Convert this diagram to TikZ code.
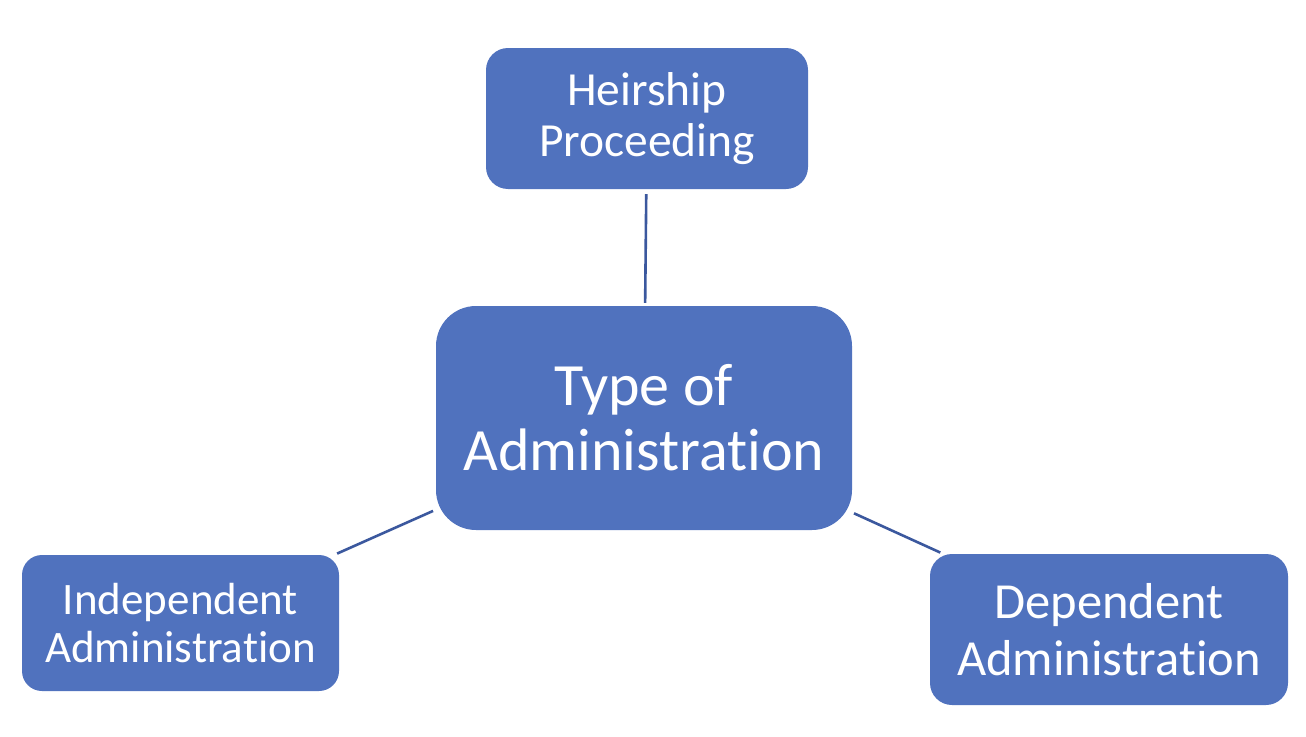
\documentclass[tikz,border=0pt]{standalone}
\usepackage{fontspec}
\setmainfont[Ligatures={NoCommon,NoRare}]{Carlito}
\definecolor{boxblue}{RGB}{80,114,190}
\definecolor{linkblue}{RGB}{59,88,158}
\tikzset{
  box/.style={fill=boxblue, draw=none, text=white, align=center, inner sep=0pt},
  conn/.style={draw=linkblue, line width=2.6pt, shorten <=3pt, shorten >=3pt}
}
\begin{document}
\begin{tikzpicture}[x=1pt,y=-1pt]
\useasboundingbox (0,0) rectangle (1306,736);
\node[box, minimum width=322pt, minimum height=141pt, rounded corners=22pt,
  font=\fontsize{47.5}{51}\selectfont] (heir) at (647,118.5) {Heirship\\Proceeding};
\node[box, minimum width=416pt, minimum height=224pt, rounded corners=40pt,
  font=\fontsize{60}{65}\selectfont] (type) at (644,418) {Type of\\Administration};
\node[box, minimum width=317pt, minimum height=136pt, rounded corners=20pt,
  font=\fontsize{45}{48}\selectfont] (indep) at (180.5,623) {Independent\\Administration};
\node[box, minimum width=358pt, minimum height=151pt, rounded corners=22pt,
  font=\fontsize{50.5}{57}\selectfont] (dep) at (1109,629.5) {Dependent\\Administration};
\draw[conn, shorten <=5pt] (heir) -- (type);
\draw[conn] (type) -- (indep);
\draw[conn, shorten <=2pt] (type) -- (dep);
\end{tikzpicture}
\end{document}
